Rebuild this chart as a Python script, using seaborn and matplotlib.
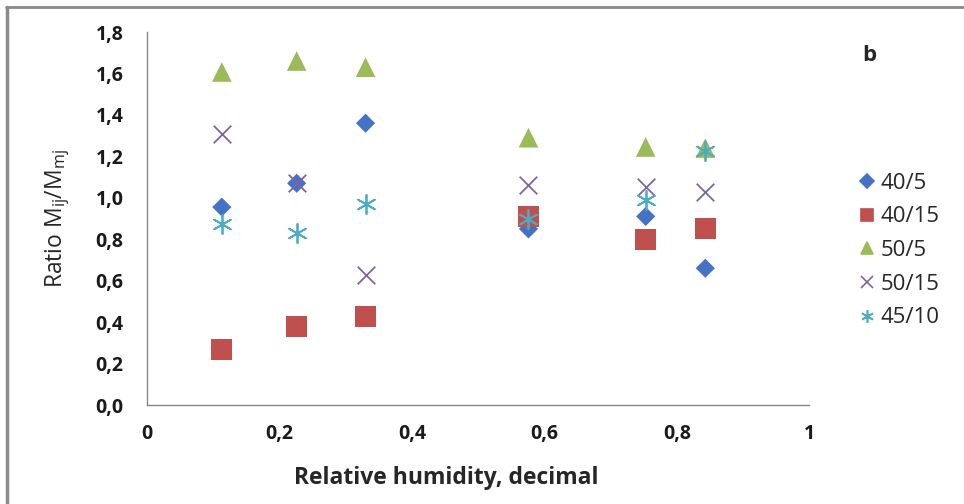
import matplotlib
matplotlib.use("Agg")
import matplotlib.pyplot as plt
import seaborn as sns
from matplotlib.ticker import FuncFormatter
from matplotlib.lines import Line2D

# data
humidity = [0.113, 0.226, 0.330, 0.576, 0.753, 0.843]
r_40_5 = [0.955, 1.07, 1.36, 0.85, 0.91, 0.66]
r_40_15 = [0.27, 0.38, 0.425, 0.91, 0.80, 0.85]
r_50_5 = [1.607, 1.66, 1.63, 1.29, 1.245, 1.24]
r_50_15 = [1.31, 1.07, 0.627, 1.06, 1.05, 1.03]
r_45_10 = [0.873, 0.83, 0.97, 0.90, 0.99, 1.225]
labels = ["40/5", "40/15", "50/5", "50/15", "45/10"]

sns.set_style("white")
plt.rcParams["font.family"] = ["Open Sans", "DejaVu Sans"]
plt.rcParams["mathtext.fontset"] = "custom"
plt.rcParams["mathtext.rm"] = "Open Sans"

styles = [
    dict(marker="D", color="#4472C4", s=95),
    dict(marker="s", color="#C0504D", s=230),
    dict(marker="^", color="#9BBB59", s=200),
    dict(marker="x", color="#8064A2", s=160, linewidth=1.3),
    dict(marker=(6, 2, 0), color="#4BACC6", s=190, linewidth=1.3),
]
series = [r_40_5, r_40_15, r_50_5, r_50_15, r_45_10]

fig = plt.figure(figsize=(9.64, 5.04), dpi=100)
ax = fig.add_axes([0.1525, 0.1964, 0.687, 0.7401])

for vals, lab, st in zip(series, labels, styles):
    sns.scatterplot(x=humidity, y=vals, ax=ax, legend=False, edgecolor="none"
                    if st["marker"] in ("D", "s", "^") else None, **st)

ax.set_xlim(0, 1)
ax.set_ylim(0, 1.8)
ax.set_xticks([0, 0.2, 0.4, 0.6, 0.8, 1.0])
ax.set_yticks([0, 0.2, 0.4, 0.6, 0.8, 1.0, 1.2, 1.4, 1.6, 1.8])
ax.xaxis.set_major_formatter(FuncFormatter(lambda v, p: "0" if v == 0 else ("1" if v == 1 else f"{v:.1f}".replace(".", ","))))
ax.yaxis.set_major_formatter(FuncFormatter(lambda v, p: f"{v:.1f}".replace(".", ",")))
for lbl in ax.get_xticklabels() + ax.get_yticklabels():
    lbl.set_fontweight("bold")
ax.tick_params(axis="both", labelsize=14, colors="#868686", labelcolor="#1a1a1a",
               direction="out", length=5, width=1)
ax.tick_params(axis="y", pad=12)
ax.tick_params(axis="x", pad=9)
sns.despine(ax=ax)
for side in ("left", "bottom"):
    ax.spines[side].set_color("#868686")
    ax.spines[side].set_linewidth(1)

ax.set_xlabel("Relative humidity, decimal", fontsize=16.5, fontweight="bold", va="center")
ax.xaxis.set_label_coords(0.452, -0.196)
ax.set_ylabel(r"Ratio M$_{\mathregular{ij}}$/M$_{\mathregular{mj}}$", fontsize=16.5, labelpad=17)

fig.text(0.902, 0.89, "b", fontsize=16, fontweight="bold", ha="center", va="center")

handles = [Line2D([], [], linestyle="none", marker=st["marker"], color=st["color"],
                  markersize=9 if st["marker"] != "D" else 7, markeredgewidth=1.2)
           for st in styles]
fig.legend(handles, labels, loc="upper left", bbox_to_anchor=(0.879, 0.675),
           frameon=False, fontsize=16, handletextpad=0.1, labelspacing=0.57,
           handlelength=1.0, borderaxespad=0)

# grey picture frame
fig.add_artist(Line2D([0.006, 1.0], [0.986, 0.986], transform=fig.transFigure, color="#8a8a8a", linewidth=2))
fig.add_artist(Line2D([0.007, 0.007], [0.0, 0.986], transform=fig.transFigure, color="#8a8a8a", linewidth=2.5))

fig.savefig("out.png", dpi=100)
